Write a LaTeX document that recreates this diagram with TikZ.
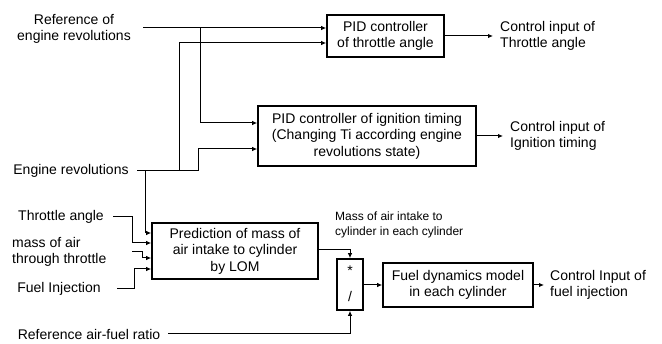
\documentclass[tikz,border=0pt]{standalone}
\usepackage{fontspec}
\setmainfont{Liberation Sans}
\usetikzlibrary{arrows.meta}
\begin{document}
\begin{tikzpicture}[x=1pt,y=-1pt,
  every node/.style={font=\fontsize{14}{16.5}\selectfont, inner sep=1pt},
  blk/.style={draw, line width=1.6pt, align=center, inner sep=0pt},
  lbl/.style={align=center},
  lbll/.style={align=left},
  conn/.style={line width=1pt, -{Latex[length=5pt,width=4.5pt]}},
  wire/.style={line width=1pt}]
\useasboundingbox (0,0) rectangle (662,344);

% blocks
\node[blk, minimum width=117pt, minimum height=42pt] (thr) at (385.5,36) {PID controller\\of throttle angle};
\node[blk, minimum width=218pt, minimum height=60pt] (ign) at (367,136) {PID controller of ignition timing\\(Changing Ti according engine\\revolutions state)};
\node[blk, minimum width=166pt, minimum height=56pt] (lom) at (235,251) {Prediction of mass of\\air intake to cylinder\\by LOM};
\node[blk, minimum width=26pt, minimum height=51pt] (mult) at (350,284.5) {};
\node (star) at (350,271) {*};
\node (slash) at (350,296) {/};
\node[blk, minimum width=150pt, minimum height=44pt] (fuel) at (458,285) {Fuel dynamics model\\in each cylinder};

% input labels
\node[lbl] (refrev) at (74,29) {Reference of\\engine revolutions};
\node[lbl] (engrev) at (71,171) {Engine revolutions};
\node[lbl] (thang) at (61,217) {Throttle angle};
\node[lbll, anchor=west] (mair) at (11,252) {mass of air\\through throttle};
\node[lbl] (finj) at (59,289) {Fuel Injection};
\node[lbl] (afr) at (89,334) {Reference air-fuel ratio};

% output labels
\node[lbll, anchor=west] (out1) at (499,36) {Control input of\\Throttle angle};
\node[lbll, anchor=west] (out2) at (509,136) {Control input of\\Ignition timing};
\node[lbll, anchor=west] (out3) at (549,285) {Control Input of\\fuel injection};
\node[lbll, anchor=west, font=\fontsize{12}{15}\selectfont] (mlab) at (334,224.5) {Mass of air intake to\\cylinder in each cylinder};

% coordinates
\coordinate (r0) at (143,28);
\coordinate (r1) at (200,28);
\coordinate (e0) at (137,171);
\coordinate (e1) at (145,171);
\coordinate (e2) at (179,171);
\coordinate (e3) at (198,171);
\coordinate (t0) at (113,217);
\coordinate (t1) at (132,217);
\coordinate (m0) at (132,252);
\coordinate (m1) at (142,252);
\coordinate (f0) at (117,289);
\coordinate (f1) at (134,289);
\coordinate (a0) at (168,334);

% reference of engine revolutions
\draw[conn] (r0) -- (thr.west |- r0);
\draw[conn] (r1) |- ([yshift=13pt]ign.west);
% engine revolutions
\draw[wire] (e0) -- (e3);
\draw[conn] (e2) |- ([yshift=-7pt]thr.west);
\draw[conn] (e3) |- ([yshift=-13pt]ign.west);
\draw[conn] (e1) |- ([yshift=18pt]lom.west);
% other LOM inputs
\draw[conn] (t0) -- (t1) |- ([yshift=8pt]lom.west);
\draw[conn] (m0) -- (m1) |- ([yshift=-7pt]lom.west);
\draw[conn] (f0) -- (f1) |- ([yshift=-18pt]lom.west);
% LOM -> mult
\draw[conn] ([yshift=1pt]lom.east) -| (mult.north);
\draw[conn] (a0) -| (mult.south);
\draw[conn] (mult.east |- fuel.west) -- (fuel.west);
% outputs
\draw[conn] (thr.east) -- ([xshift=-6pt]out1.west);
\draw[conn] (ign.east) -- ([xshift=-6pt]out2.west);
\draw[conn] (fuel.east) -- ([xshift=-5pt]out3.west);
\end{tikzpicture}
\end{document}
